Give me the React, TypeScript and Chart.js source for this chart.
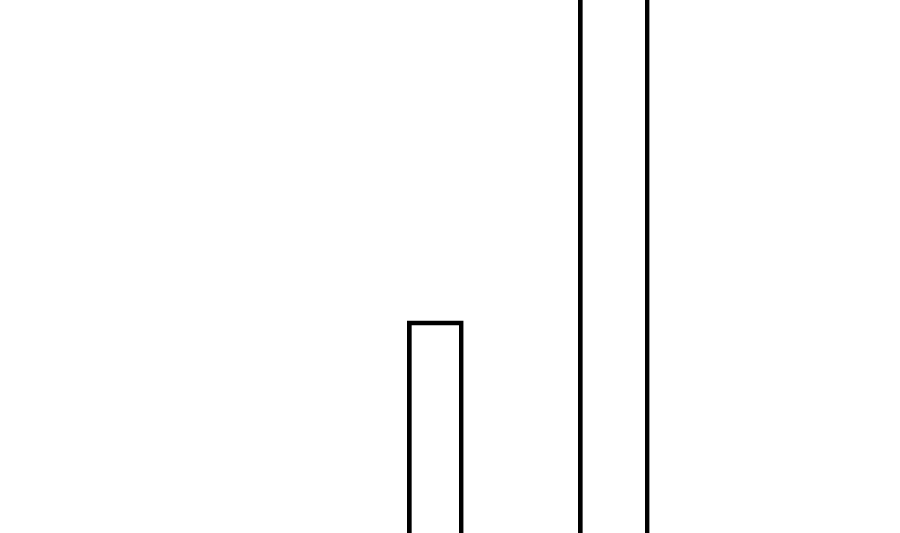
import React, { useEffect, useRef } from "react";
import { Chart, registerables } from "chart.js";

Chart.register(...registerables);

// Data: two bars positioned on a hidden linear x-axis (0–10), values on a hidden y-axis (0–100)
const barPositions = [4.837, 6.82];
const barValues = [39.8, 130];
const xRange = [0, 10];
const yRange = [0, 100];

export default function App() {
  const ref = useRef<HTMLCanvasElement | null>(null);

  useEffect(() => {
    if (!ref.current) return;
    const chart = new Chart(ref.current, {
      type: "bar",
      data: {
        datasets: [
          {
            data: [{ x: barPositions[0], y: barValues[0] }],
            backgroundColor: "rgba(0,0,0,0)",
            borderColor: "#000000",
            borderWidth: 4,
            barThickness: 56,
            grouped: false,
            clip: false,
          },
          {
            data: [{ x: barPositions[1], y: barValues[1] }],
            backgroundColor: "rgba(0,0,0,0)",
            borderColor: "#000000",
            borderWidth: 4,
            barThickness: 71,
            grouped: false,
            clip: false,
          },
        ],
      },
      options: {
        animation: false,
        responsive: true,
        maintainAspectRatio: false,
        layout: { padding: 0 },
        plugins: {
          legend: { display: false },
          tooltip: { enabled: false },
          title: { display: false },
        },
        scales: {
          x: { type: "linear", min: xRange[0], max: xRange[1], offset: false, display: false },
          y: { type: "linear", min: yRange[0], max: yRange[1], display: false },
        },
      },
    });
    return () => chart.destroy();
  }, []);

  return (
    <div
      style={{
        position: "fixed",
        left: 0,
        top: 0,
        width: 900,
        height: 533,
        background: "#ffffff",
      }}
    >
      <canvas ref={ref} />
    </div>
  );
}
